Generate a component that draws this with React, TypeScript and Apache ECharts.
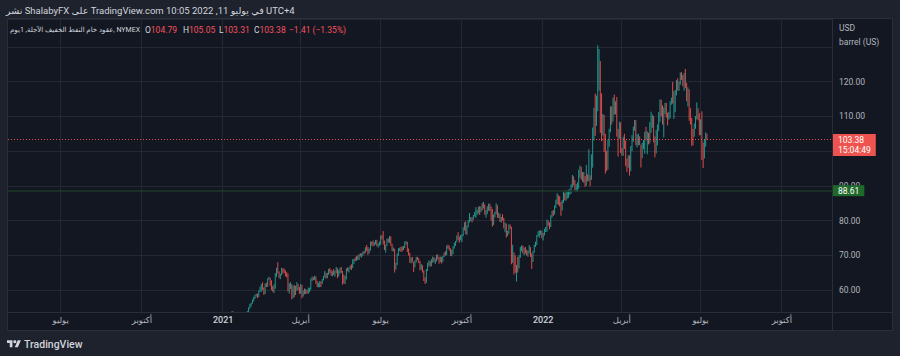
import React, { useEffect, useRef } from "react";
import * as echarts from "echarts";

// Each candle: [open, close, low, high] (ECharts candlestick order)
const jan21 = [
  [48.40, 47.62, 47.18, 49.83], [47.40, 49.93, 47.26, 50.20], [49.82, 50.63, 49.48, 50.94], [50.52, 50.83, 50.26, 51.28],
  [50.86, 52.24, 50.57, 52.75], [52.23, 52.25, 51.28, 52.49], [52.22, 53.21, 51.91, 53.33], [53.34, 52.91, 52.55, 53.93],
  [52.83, 53.57, 52.45, 53.82], [53.60, 52.36, 51.97, 53.64], [52.13, 52.98, 52.07, 53.28], [52.94, 53.31, 52.60, 53.48],
  [53.27, 53.13, 52.58, 53.68], [53.16, 52.27, 51.45, 53.18], [52.17, 52.77, 51.79, 53.06], [52.72, 52.61, 52.21, 53.07],
  [52.68, 52.85, 52.28, 53.24], [52.88, 52.34, 51.67, 53.06], [52.29, 52.20, 51.77, 52.75],
];
const feb21 = [
  [52.23, 53.55, 51.93, 53.95], [53.61, 54.76, 53.42, 55.02], [54.80, 55.69, 54.63, 56.00], [55.56, 56.23, 55.22, 56.33],
  [56.30, 56.85, 56.04, 57.29], [56.95, 57.97, 56.70, 58.04], [57.91, 58.36, 57.40, 58.62], [58.40, 58.68, 58.10, 58.91],
  [58.78, 58.24, 57.66, 58.94], [58.31, 59.47, 57.96, 59.82], [59.53, 60.05, 59.40, 60.95], [60.20, 61.14, 59.50, 61.73],
  [61.21, 60.52, 60.05, 62.26], [60.51, 59.24, 58.60, 60.70], [59.39, 61.70, 58.84, 61.86], [61.69, 61.67, 60.84, 62.09],
  [61.69, 63.22, 60.87, 63.35], [63.29, 63.53, 62.95, 63.81], [63.44, 61.50, 61.22, 63.54],
];
const mar21 = [
  [61.59, 60.64, 59.96, 62.80], [60.48, 59.75, 59.47, 61.17], [59.66, 61.28, 59.09, 61.64], [61.10, 63.83, 60.36, 64.86],
  [63.86, 66.09, 63.79, 66.40], [66.30, 65.05, 64.75, 67.98], [65.19, 64.01, 63.40, 65.37], [63.99, 64.44, 63.13, 64.73],
  [64.34, 66.02, 64.26, 66.40], [66.08, 65.61, 64.77, 66.28], [65.68, 65.39, 64.87, 66.15], [65.42, 64.80, 63.93, 65.69],
  [64.71, 64.60, 63.62, 65.12], [64.60, 60.00, 59.57, 64.76], [60.02, 61.42, 58.95, 61.96], [61.40, 61.55, 60.27, 62.25],
  [61.64, 57.76, 57.32, 61.68], [58.02, 61.18, 57.63, 61.28], [61.25, 58.56, 57.93, 61.41], [58.78, 60.97, 58.54, 61.18],
  [61.16, 61.56, 59.82, 62.28], [61.57, 60.55, 59.94, 61.73], [60.50, 59.16, 58.87, 60.85],
];
const apr21 = [
  [59.32, 61.45, 58.96, 61.66], [61.37, 58.65, 57.63, 61.55], [58.65, 59.33, 58.12, 59.83], [59.30, 59.77, 58.76, 60.45],
  [59.82, 59.60, 58.85, 60.31], [59.54, 59.32, 58.89, 60.00], [59.29, 59.70, 58.91, 60.70], [59.77, 60.18, 59.35, 60.64],
  [60.24, 63.15, 60.05, 63.30], [63.17, 63.46, 62.56, 63.91], [63.49, 63.13, 62.84, 63.69], [63.08, 63.38, 62.85, 64.12],
  [63.43, 62.44, 61.80, 63.92], [62.44, 61.35, 60.86, 62.63], [61.34, 61.43, 60.76, 62.06], [61.52, 62.14, 60.80, 62.57],
  [62.09, 61.91, 60.86, 62.56], [61.96, 62.94, 61.76, 63.20], [62.91, 63.86, 62.75, 64.08], [63.91, 65.01, 63.61, 65.47],
  [64.86, 63.58, 63.23, 64.95],
];
const may21 = [
  [63.70, 64.49, 63.39, 64.94], [64.55, 65.69, 64.35, 66.06], [65.71, 65.63, 64.86, 66.35], [65.63, 64.71, 64.08, 65.84],
  [64.82, 64.90, 63.94, 65.40], [65.02, 64.92, 64.34, 66.02], [64.97, 65.28, 63.86, 65.56], [65.34, 66.08, 64.83, 66.66],
  [66.05, 63.82, 63.40, 66.22], [63.87, 65.37, 63.86, 65.70], [65.32, 66.27, 64.68, 66.47], [66.32, 65.49, 64.94, 66.61],
  [65.40, 63.36, 61.56, 65.46], [63.24, 62.05, 61.85, 64.46], [62.13, 63.58, 61.71, 64.08], [63.66, 66.05, 63.05, 66.26],
  [66.11, 66.07, 65.37, 66.52], [66.09, 66.21, 65.03, 66.48], [66.26, 66.85, 66.02, 67.04], [66.86, 66.32, 65.73, 67.40],
];
const jun21 = [
  [66.42, 67.72, 66.34, 68.87], [67.75, 68.83, 67.50, 68.98], [68.89, 68.81, 68.27, 69.40], [68.79, 69.62, 68.39, 69.76],
  [69.66, 69.23, 68.67, 70.00], [69.27, 70.05, 68.63, 70.28], [70.04, 69.96, 69.63, 70.61], [70.04, 70.29, 69.32, 70.53],
  [70.28, 70.91, 69.84, 71.08], [70.94, 70.88, 70.28, 71.23], [70.95, 72.12, 70.68, 72.31], [72.17, 72.15, 71.18, 72.99],
  [72.11, 71.04, 70.09, 72.38], [70.98, 71.64, 70.57, 71.90], [71.80, 73.66, 71.38, 73.95], [73.71, 73.06, 72.80, 73.96],
  [73.10, 73.08, 72.55, 74.25], [73.13, 73.30, 72.74, 73.78], [73.35, 74.05, 73.12, 74.45], [74.10, 72.91, 72.60, 74.43],
  [72.93, 72.98, 72.21, 73.44], [73.03, 73.47, 72.68, 74.00],
];
const jul21 = [
  [73.62, 75.23, 73.03, 75.70], [75.31, 75.16, 74.59, 75.79], [75.24, 73.37, 73.07, 76.98], [73.46, 72.20, 71.52, 74.24],
  [72.29, 72.94, 70.76, 73.00], [72.95, 74.56, 72.63, 74.80], [74.55, 74.10, 73.67, 74.90], [74.13, 75.25, 73.51, 75.52],
  [75.34, 73.13, 72.77, 75.46], [73.09, 71.65, 71.20, 73.31], [71.71, 71.81, 71.10, 72.23], [71.79, 66.42, 65.01, 71.87],
  [66.55, 67.42, 65.86, 67.85], [67.35, 70.30, 67.17, 70.46], [70.33, 71.91, 69.86, 72.04], [71.85, 72.07, 71.20, 72.22],
  [72.04, 71.91, 70.99, 72.45], [71.93, 71.65, 71.12, 72.55], [71.72, 72.39, 71.52, 72.67], [72.48, 73.62, 72.11, 73.97],
  [73.57, 73.95, 73.13, 74.08],
];
const aug21 = [
  [73.79, 71.26, 70.90, 73.88], [71.33, 70.56, 69.94, 71.95], [70.50, 68.15, 67.86, 70.68], [68.21, 69.09, 67.67, 69.39],
  [69.13, 68.28, 67.94, 69.50], [68.06, 66.48, 65.15, 68.10], [66.58, 68.29, 66.50, 68.55], [68.33, 69.25, 67.86, 69.55],
  [69.28, 69.09, 68.55, 69.56], [69.05, 68.44, 67.72, 69.16], [68.29, 66.29, 65.64, 68.39], [66.37, 66.59, 65.80, 67.47],
  [66.64, 65.46, 65.01, 67.12], [65.45, 63.69, 62.59, 65.68], [63.43, 62.32, 61.74, 63.60], [62.25, 65.64, 62.06, 66.02],
  [65.69, 67.54, 65.43, 67.84], [67.51, 68.36, 66.82, 68.52], [68.35, 67.42, 66.74, 68.35], [67.51, 68.74, 66.83, 68.92],
  [68.69, 69.21, 67.87, 69.62], [69.26, 68.50, 67.98, 69.47],
];
const sep21 = [
  [68.31, 68.59, 67.44, 69.08], [68.56, 69.99, 68.21, 70.16], [69.96, 69.29, 68.80, 70.26], [69.25, 68.35, 67.58, 69.56],
  [68.38, 69.30, 68.04, 69.62], [69.33, 68.14, 67.60, 69.55], [68.18, 69.72, 68.05, 69.82], [69.81, 70.45, 69.48, 70.80],
  [70.49, 70.46, 69.85, 71.19], [70.50, 72.61, 70.02, 72.80], [72.63, 72.61, 71.89, 73.06], [72.57, 71.97, 71.37, 72.80],
  [71.78, 70.29, 69.86, 72.00], [70.42, 70.56, 69.70, 71.55], [70.62, 72.23, 70.27, 72.60], [72.20, 73.30, 71.93, 73.62],
  [73.26, 73.98, 72.70, 74.12], [73.93, 75.45, 73.75, 75.73], [75.48, 75.29, 74.31, 76.67], [75.27, 74.83, 73.58, 75.39],
  [74.81, 75.03, 74.27, 75.86],
];
const oct21 = [
  [74.94, 75.88, 73.80, 76.09], [75.94, 77.62, 75.50, 78.06], [77.66, 78.93, 77.13, 79.48], [78.99, 77.43, 76.08, 79.78],
  [77.40, 78.30, 75.88, 78.62], [78.36, 79.35, 78.08, 80.11], [79.54, 80.52, 79.48, 82.18], [80.55, 80.64, 79.84, 81.03],
  [80.62, 80.44, 79.50, 80.95], [80.50, 81.31, 80.23, 81.62], [81.35, 82.28, 81.15, 82.48], [82.36, 82.44, 80.75, 83.87],
  [82.50, 82.96, 81.57, 83.11], [82.90, 83.87, 82.06, 84.00], [83.88, 82.50, 81.60, 84.16], [82.43, 83.76, 82.40, 84.08],
  [83.80, 83.76, 82.94, 85.03], [83.73, 84.65, 83.48, 85.41], [84.59, 82.66, 81.70, 84.67], [82.62, 82.81, 80.83, 83.09],
  [82.85, 83.57, 81.85, 84.14],
];
const nov21 = [
  [83.45, 84.05, 82.81, 84.88], [84.07, 83.91, 82.72, 84.86], [83.86, 80.86, 79.97, 84.11], [80.94, 78.81, 78.25, 83.33],
  [78.87, 81.27, 78.72, 81.79], [81.29, 81.93, 80.92, 82.58], [81.95, 84.15, 81.78, 84.97], [84.12, 81.34, 80.81, 84.42],
  [81.42, 81.59, 80.71, 82.25], [81.61, 80.79, 79.59, 81.98], [80.75, 80.88, 79.43, 81.05], [80.87, 80.76, 80.01, 81.83],
  [80.69, 78.36, 77.75, 80.84], [78.40, 79.01, 76.66, 79.38], [79.00, 76.10, 75.12, 79.10], [76.08, 76.75, 75.53, 77.01],
  [76.80, 78.50, 76.14, 78.92], [78.49, 78.39, 77.58, 78.88], [78.05, 68.15, 67.40, 78.23], [67.99, 69.95, 67.81, 73.01],
  [70.18, 66.18, 64.43, 70.85],
];
const dec21 = [
  [66.20, 65.57, 64.95, 69.98], [65.43, 66.50, 62.43, 67.25], [66.69, 66.26, 65.03, 69.55], [66.31, 69.49, 66.22, 70.04],
  [69.54, 72.05, 69.24, 72.40], [72.13, 72.36, 71.14, 72.84], [72.39, 70.94, 70.54, 72.80], [70.87, 71.67, 70.05, 72.20],
  [71.69, 71.29, 70.44, 72.42], [71.28, 70.73, 69.94, 71.60], [70.73, 70.87, 69.58, 71.35], [70.93, 72.38, 70.48, 72.95],
  [72.26, 70.86, 69.51, 72.37], [70.46, 68.23, 66.04, 70.56], [68.33, 71.12, 68.10, 71.20], [71.25, 72.76, 70.77, 73.05],
  [72.84, 73.79, 72.38, 73.92], [73.88, 75.57, 72.91, 75.86], [75.63, 75.98, 75.36, 76.92], [76.02, 76.56, 75.09, 77.11],
  [76.62, 76.99, 75.83, 77.29], [76.96, 75.21, 74.86, 77.00],
];
const jan22 = [
  [75.69, 76.08, 74.27, 76.46], [76.05, 76.99, 75.69, 77.64], [77.09, 77.85, 76.69, 78.15], [77.82, 79.46, 76.73, 80.24],
  [79.57, 78.90, 78.52, 79.98], [78.90, 78.23, 77.49, 79.43], [78.21, 81.22, 78.13, 81.57], [81.29, 82.64, 80.87, 82.80],
  [82.70, 82.12, 81.33, 83.00], [82.20, 83.82, 81.80, 84.34], [84.10, 85.43, 83.66, 86.00], [85.45, 86.96, 84.67, 87.91],
  [86.94, 86.90, 84.51, 87.32], [86.84, 85.14, 84.02, 86.97], [85.11, 83.31, 81.39, 85.40], [83.25, 85.60, 82.90, 85.94],
  [85.59, 87.35, 85.08, 88.26], [87.41, 86.61, 85.77, 87.95], [86.60, 86.82, 85.73, 88.84], [86.79, 88.15, 86.31, 88.43],
];
const feb22 = [
  [88.20, 88.20, 86.55, 88.90], [88.15, 88.26, 87.36, 89.13], [88.33, 90.27, 87.80, 90.42], [90.19, 92.31, 89.49, 93.17],
  [92.43, 91.32, 90.13, 92.73], [91.28, 89.36, 88.65, 91.66], [89.37, 89.66, 88.17, 90.49], [89.72, 89.88, 88.41, 90.99],
  [89.79, 93.10, 89.20, 94.66], [93.05, 95.46, 92.32, 95.82], [95.26, 92.07, 91.77, 95.44], [92.12, 93.66, 91.17, 94.00],
  [93.61, 91.76, 90.86, 93.96], [91.93, 91.07, 89.73, 92.85], [91.39, 92.35, 90.01, 96.00], [92.31, 92.10, 91.31, 93.30],
  [92.51, 92.81, 91.32, 100.54], [92.89, 91.59, 89.89, 93.06], [92.21, 95.72, 91.71, 99.10],
];
const mar22 = [
  [95.75, 103.41, 95.24, 106.78], [103.70, 110.60, 103.06, 112.51], [110.82, 107.67, 104.38, 116.57], [107.95, 115.68, 107.26, 116.01],
  [116.43, 119.40, 111.50, 130.50], [119.90, 123.70, 117.40, 129.44], [123.96, 108.70, 105.25, 125.94], [108.51, 106.02, 102.82, 116.61],
  [106.58, 109.33, 104.48, 110.71], [109.34, 103.01, 99.76, 110.43], [103.26, 96.44, 93.53, 104.98], [96.34, 95.04, 94.25, 100.07],
  [95.05, 102.98, 94.69, 103.32], [102.64, 104.70, 101.26, 106.43], [106.14, 112.12, 105.46, 112.91], [112.26, 109.27, 107.68, 112.88],
  [109.48, 114.93, 108.54, 115.40], [114.96, 112.34, 110.46, 116.30], [112.01, 113.90, 110.59, 114.35], [113.68, 105.96, 104.17, 115.60],
  [105.40, 104.24, 98.44, 106.40], [104.10, 107.82, 103.54, 108.52], [107.92, 100.28, 99.46, 108.28],
];
const apr22 = [
  [100.28, 99.27, 98.75, 100.92], [99.42, 103.28, 98.61, 104.15], [103.29, 101.96, 100.64, 104.98], [101.93, 96.23, 95.69, 103.06],
  [96.16, 96.03, 93.97, 97.86], [96.12, 98.26, 95.23, 98.84], [97.87, 94.29, 92.93, 98.77], [94.32, 100.60, 94.22, 101.47],
  [100.39, 104.25, 99.94, 104.58], [104.24, 106.95, 102.63, 107.05], [107.05, 108.21, 105.85, 109.02], [108.10, 102.56, 101.67, 108.95],
  [102.54, 102.75, 101.06, 104.85], [102.83, 103.79, 101.69, 105.00], [103.70, 102.07, 101.72, 104.27], [101.70, 98.54, 95.28, 101.85],
  [98.48, 101.70, 97.97, 102.38], [101.60, 102.02, 100.59, 103.18], [101.99, 105.36, 99.28, 105.59], [105.30, 104.69, 103.14, 107.00],
];
const may22 = [
  [104.61, 105.17, 99.12, 105.70], [105.00, 102.41, 101.93, 105.29], [102.50, 107.81, 102.24, 108.42], [107.93, 108.26, 105.31, 111.37],
  [108.22, 109.77, 106.72, 110.50], [109.88, 103.09, 102.50, 110.10], [103.07, 99.76, 98.20, 104.23], [99.70, 105.71, 99.33, 106.09],
  [105.84, 106.13, 101.66, 107.70], [106.37, 110.49, 105.82, 111.26], [110.62, 114.20, 108.43, 114.89], [114.00, 112.40, 110.00, 114.83],
  [112.49, 109.59, 107.66, 113.20], [109.50, 112.21, 103.96, 112.58], [112.30, 113.23, 110.63, 113.91], [113.10, 110.29, 109.68, 113.90],
  [110.40, 109.77, 107.38, 111.06], [109.79, 110.33, 109.11, 111.32], [110.41, 114.09, 109.43, 114.38], [114.08, 115.07, 113.35, 115.40],
  [115.13, 114.67, 113.69, 119.98],
];
const jun22 = [
  [114.85, 115.26, 109.28, 117.26], [115.05, 116.87, 111.23, 117.59], [116.95, 118.87, 116.06, 120.45], [118.95, 118.50, 117.46, 120.99],
  [118.45, 119.41, 117.34, 120.05], [119.47, 122.11, 119.14, 122.68], [122.08, 121.51, 120.50, 122.72], [121.39, 120.67, 118.72, 121.92],
  [120.70, 120.93, 117.41, 122.49], [120.98, 118.93, 118.12, 123.68], [118.88, 115.31, 114.35, 119.68], [115.37, 117.59, 112.87, 118.39],
  [117.55, 109.56, 108.73, 117.79], [109.69, 109.52, 107.68, 112.36], [109.44, 106.19, 101.53, 109.53], [105.98, 104.27, 101.64, 106.41],
  [104.50, 107.62, 104.15, 107.99], [107.49, 109.57, 106.42, 110.06], [109.65, 111.76, 109.13, 114.05], [111.93, 109.78, 108.86, 112.35],
  [110.05, 105.76, 104.56, 110.91],
];
const jul22 = [
  [105.60, 108.43, 104.56, 109.16], [108.31, 99.50, 97.43, 111.45], [99.18, 98.53, 95.10, 102.48], [98.27, 102.73, 97.88, 103.38],
  [102.47, 104.79, 101.27, 105.40], [104.79, 103.38, 103.31, 105.05],
];

const MONTHS: Record<string, number[][]> = {
  "2021-01": jan21, "2021-02": feb21, "2021-03": mar21, "2021-04": apr21, "2021-05": may21, "2021-06": jun21,
  "2021-07": jul21, "2021-08": aug21, "2021-09": sep21, "2021-10": oct21, "2021-11": nov21, "2021-12": dec21,
  "2022-01": jan22, "2022-02": feb22, "2022-03": mar22, "2022-04": apr22, "2022-05": may22, "2022-06": jun22,
  "2022-07": jul22,
};

const HOLIDAYS = [
  "2020-05-25", "2020-07-03", "2020-09-07", "2020-11-26", "2020-12-25",
  "2021-01-01", "2021-01-18", "2021-02-15", "2021-04-02", "2021-05-31", "2021-07-05", "2021-09-06", "2021-11-25", "2021-12-24",
  "2022-01-17", "2022-02-21", "2022-04-15", "2022-05-30", "2022-06-20", "2022-07-04", "2022-09-05", "2022-11-24",
];

const QUARTER_LABELS: Record<string, string> = { "04": "أبريل", "07": "يوليو", "10": "أكتوبر" };

// price-axis ticks hidden behind the header box and the last-price tag, as in the reference
const HIDDEN_TICKS = [100, 130];

const LAST_PRICE = 103.38;
const LAST_TIME = "15:04:49";
const LEVEL_PRICE = 88.61;
const LEGEND_OHLC = [
  ["O", "104.79"],
  ["H", "105.05"],
  ["L", "103.31"],
  ["C", "103.38"],
];
const LEGEND_CHANGE = "−1.41 (−1.35%)";
const HEADER = "نشر ShalabyFX على TradingView.com في يوليو 11, 2022 10:05 UTC+4";
const SYMBOL = "عقود خام النفط الخفيف الآجلة, 1يوم, NYMEX";

const SLOT_COUNT = 649;
const Y_MIN = 53.663;
const Y_MAX = 138.06;

const FONT = "Roboto, 'DejaVu Sans', sans-serif";
const UP = "#26a69a";
const DOWN = "#ef5350";
const GRID = "#242834";
const AXIS_TEXT = "#b2b5be";
const BG = "#131722";
const OUTER = "#1e222d";
const BORDER = "#2a2e39";

echarts.graphic.registerShape(
  "tvlogo",
  echarts.graphic.extendPath("M14 22H7V11H0V4h14v18zM28 22h-8l7.5-18h8L28 22z", {})
);

function buildDates(n: number): string[] {
  const out: string[] = [];
  const d = new Date(Date.UTC(2020, 4, 4));
  while (out.length < n) {
    const wd = d.getUTCDay();
    const s = d.toISOString().slice(0, 10);
    if (wd !== 0 && wd !== 6 && HOLIDAYS.indexOf(s) < 0) out.push(s);
    d.setUTCDate(d.getUTCDate() + 1);
  }
  return out;
}

export default function App() {
  const ref = useRef<HTMLDivElement>(null);

  useEffect(() => {
    if (!ref.current) return;
    const chart = echarts.init(ref.current, null, { renderer: "svg" });

    const dates = buildDates(SLOT_COUNT);
    const counters: Record<string, number> = {};
    const candles = dates.map((s) => {
      const m = s.slice(0, 7);
      const arr = MONTHS[m];
      if (!arr) return "-";
      const i = counters[m] || 0;
      counters[m] = i + 1;
      return arr[i] || "-";
    });

    const labelAt: Record<number, string> = {};
    dates.forEach((s, i) => {
      const mm = s.slice(5, 7);
      const prev = i > 0 ? dates[i - 1].slice(5, 7) : null;
      if (prev === mm) return;
      if (mm === "01") labelAt[i] = "{y|" + s.slice(0, 4) + "}";
      else if (QUARTER_LABELS[mm]) labelAt[i] = QUARTER_LABELS[mm];
    });
    const isLabel = (i: number) => labelAt[i] !== undefined;

    const small = 8.5;

    const graphic: any[] = [
      { type: "rect", z: -100, shape: { x: 7.5, y: 18.5, width: 885, height: 312 }, style: { fill: BG, stroke: BORDER, lineWidth: 1 } },
      { type: "line", z: 50, shape: { x1: 832.5, y1: 19, x2: 832.5, y2: 331 }, style: { stroke: BORDER, lineWidth: 1 } },
      { type: "line", z: 50, shape: { x1: 8, y1: 312.5, x2: 892, y2: 312.5 }, style: { stroke: BORDER, lineWidth: 1 } },
      { type: "text", z: 61, x: 839, y: 28, style: { text: "USD", fill: AXIS_TEXT, fontSize: small, fontFamily: FONT, verticalAlign: "middle" } },
      { type: "text", z: 61, x: 839, y: 42, style: { text: "barrel (US)", fill: AXIS_TEXT, fontSize: small, fontFamily: FONT, verticalAlign: "middle" } },
      { type: "text", z: 61, x: 6, y: 10, style: { text: HEADER, fill: "#d1d4dc", fontSize: 9.5, fontFamily: FONT, verticalAlign: "middle" } },
      { type: "text", z: 61, x: 10, y: 29.5, style: { text: SYMBOL, fill: "#d1d4dc", fontSize: 7, fontFamily: FONT, verticalAlign: "middle" } },
      ...LEGEND_OHLC.map(([k, v], idx) => ({
        type: "text",
        z: 61,
        x: [145, 183, 219, 254][idx],
        y: 29.5,
        style: {
          text: "{k|" + k + "}{v|" + v + "}",
          fontSize: small,
          fontFamily: FONT,
          verticalAlign: "middle",
          rich: {
            k: { fill: "#d1d4dc", fontSize: small, fontFamily: FONT },
            v: { fill: "#f7525f", fontSize: small, fontFamily: FONT },
          },
        },
      })),
      { type: "text", z: 61, x: 289, y: 29.5, style: { text: LEGEND_CHANGE, fill: "#f7525f", fontSize: small, fontFamily: FONT, verticalAlign: "middle" } },
      { type: "tvlogo", z: 61, x: 7, y: 338.6, scaleX: 0.39, scaleY: 0.39, style: { fill: "#d1d4dc" } },
      { type: "circle", z: 61, shape: { cx: 7 + 20 * 0.39, cy: 338.6 + 8 * 0.39, r: 4 * 0.39 }, style: { fill: "#d1d4dc" } },
      { type: "text", z: 61, x: 24, y: 344, style: { text: "TradingView", fill: "#d1d4dc", fontSize: 10.5, fontWeight: 500, fontFamily: FONT, verticalAlign: "middle" } },
    ];

    const option: any = {
      animation: false,
      backgroundColor: "transparent",
      textStyle: { fontFamily: FONT },
      grid: { left: 8, right: 68, top: 19, bottom: 44, containLabel: false },
      xAxis: {
        type: "category",
        data: dates,
        boundaryGap: true,
        axisLine: { show: false },
        axisTick: { show: false },
        axisLabel: {
          interval: (i: number) => isLabel(i),
          formatter: (_v: string, i: number) => labelAt[i] || "",
          color: AXIS_TEXT,
          fontSize: small,
          fontFamily: FONT,
          margin: 3,
          rich: { y: { color: "#d1d4dc", fontSize: 9, fontFamily: FONT, fontWeight: 500 } },
        },
        splitLine: { show: true, interval: (i: number) => isLabel(i), lineStyle: { color: GRID, width: 1 } },
      },
      yAxis: {
        type: "value",
        position: "right",
        min: Y_MIN,
        max: Y_MAX,
        minInterval: 10,
        maxInterval: 10,
        axisLine: { show: false },
        axisTick: { show: false },
        axisLabel: {
          showMinLabel: false,
          showMaxLabel: false,
          color: AXIS_TEXT,
          fontSize: small,
          fontFamily: FONT,
          margin: 7,
          formatter: (v: number) => (HIDDEN_TICKS.indexOf(Math.round(v)) >= 0 ? "" : v.toFixed(2)),
        },
        splitLine: { show: true, lineStyle: { color: GRID, width: 1 } },
      },
      series: [
        {
          type: "candlestick",
          data: candles,
          barWidth: 0.6,
          clip: true,
          itemStyle: { color: UP, color0: DOWN, borderColor: UP, borderColor0: DOWN, borderWidth: 0.9 },
          markLine: {
            silent: true,
            symbol: ["none", "none"],
            animation: false,
            data: [
              {
                yAxis: LEVEL_PRICE,
                lineStyle: { color: "#1e3829", type: "solid", width: 1.6 },
                label: {
                  show: true,
                  position: "end",
                  distance: 1,
                  formatter: LEVEL_PRICE.toFixed(2),
                  backgroundColor: "#1f6a2b",
                  color: "#ffffff",
                  fontSize: small,
                  fontFamily: FONT,
                  lineHeight: 11,
                  padding: [0, 5, 0, 5],
                },
              },
              {
                yAxis: LAST_PRICE,
                lineStyle: { color: DOWN, type: [1, 2], width: 1 },
                label: {
                  show: true,
                  position: "end",
                  distance: 1,
                  offset: [0, 5.5],
                  formatter: LAST_PRICE.toFixed(2) + "\n" + LAST_TIME,
                  backgroundColor: DOWN,
                  color: "#ffffff",
                  fontSize: small,
                  fontFamily: FONT,
                  lineHeight: 10,
                  padding: [1, 5, 1, 5],
                },
              },
            ],
          },
        },
      ],
      graphic,
    };

    chart.setOption(option);
    return () => chart.dispose();
  }, []);

  return (
    <div
      ref={ref}
      style={{ position: "fixed", left: 0, top: 0, width: 900, height: 356, background: OUTER }}
    />
  );
}
